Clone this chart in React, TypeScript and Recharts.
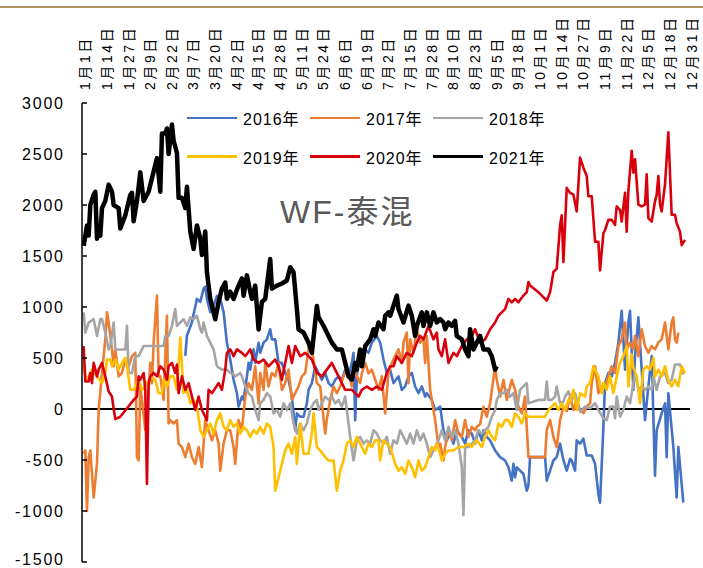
import React from 'react';
import { LineChart, Line, XAxis, YAxis, ReferenceLine } from 'recharts';

const tickLabels = [
  '1月1日', '1月14日', '1月27日', '2月9日', '2月22日', '3月7日', '3月20日', '4月2日', '4月15日', '4月28日',
  '5月11日', '5月24日', '6月6日', '6月19日', '7月2日', '7月15日', '7月28日', '8月10日', '8月23日', '9月5日',
  '9月18日', '10月1日', '10月14日', '10月27日', '11月9日', '11月22日', '12月5日', '12月18日', '12月31日',
];
const yTicks = [-1500, -1000, -500, 0, 500, 1000, 1500, 2000, 2500, 3000];

// [day of year, value]
const s2016: [number, number][] = [
  [61, 520], [62, 720], [65, 850], [68, 1080], [70, 1050], [72, 1180], [73, 1200], [74, 1080], [76, 950], [78, 1010],
  [80, 1110], [82, 1080], [84, 950], [86, 650], [88, 485], [90, 287], [92, 155], [93, 23], [95, 122], [96, 89],
  [98, 320], [99, 452], [100, 386], [102, 584], [103, 452], [105, 650], [106, 551], [108, 650], [110, 683], [112, 782],
  [113, 683], [115, 683], [117, 452], [119, 452], [121, 353], [123, 287], [125, 122], [127, -208], [128, -43], [130, -76],
  [132, -76], [134, 56], [135, 188], [137, 254], [139, 419], [141, 353], [143, 287], [145, 353], [147, 254], [149, 221],
  [151, 287], [153, 320], [155, 287], [157, 386], [159, 320], [161, 452], [162, 551], [163, -109], [164, 320], [165, 485],
  [167, 551], [169, 584], [171, 551], [173, 650], [176, 716], [178, 650], [180, 485], [182, 353], [184, 386], [186, 254],
  [189, 320], [191, 188], [193, 221], [195, 320], [197, 353], [199, 221], [201, 155], [203, 221], [205, 122], [206, 155],
  [209, 89], [211, -10], [214, 23], [216, -208], [218, -307], [220, -241], [222, -340], [224, -208], [227, -274], [229, -340],
  [231, -208], [233, -241], [235, -340], [237, -208], [239, -307], [240, -208], [242, -274], [244, -307], [247, -406], [250, -472],
  [253, -505], [255, -571], [257, -703], [258, -538], [259, -670], [260, -571], [262, -604], [264, -637], [266, -802], [267, -750],
  [268, -472], [277, -472], [278, -703], [280, -604], [282, -505], [284, -470], [286, -340], [288, -500], [290, -604], [292, -489],
  [293, -505], [295, -604], [296, -307], [298, -340], [300, -291], [302, -456], [305, -456], [307, -538], [309, -835], [310, -918],
  [312, -175], [313, 254], [315, 353], [317, 320], [319, 452], [321, 650], [323, 963], [325, 386], [327, 848], [328, 963],
  [330, 188], [331, 518], [333, 898], [335, 386], [337, -109], [339, 221], [341, 518], [343, -653], [344, -208], [347, -43],
  [349, 56], [350, -472], [351, 155], [354, -373], [356, -868], [357, -373], [360, -918],
];

const s2017: [number, number][] = [
  [0, -439], [1, -406], [2, -1000], [3, -472], [4, -406], [6, -868], [8, -538], [9, -10], [11, 353], [13, 683],
  [14, 947], [15, 848], [17, 584], [18, 419], [19, 584], [20, 452], [21, 320], [23, 353], [25, 485], [27, 419],
  [29, 518], [31, 551], [32, -472], [33, -505], [34, 221], [35, 89], [37, -208], [39, 188], [40, 452], [41, 254],
  [42, 650], [44, 1112], [45, 320], [46, 320], [48, 89], [50, 914], [51, -142], [52, -109], [54, -142], [56, -109],
  [57, -340], [59, -373], [61, -472], [63, -340], [65, -472], [67, -538], [69, -373], [71, -571], [73, -109], [75, -208],
  [77, -307], [79, -208], [81, -340], [82, -604], [84, -340], [86, -208], [88, -208], [90, -373], [91, -538], [93, -109],
  [95, -208], [97, 122], [99, 254], [101, 188], [103, 419], [105, 56], [106, 353], [108, 188], [109, 452], [111, 221],
  [113, 353], [115, 320], [117, 452], [119, 188], [121, 254], [123, 386], [125, 89], [127, 155], [129, 221], [131, 320],
  [133, 353], [135, 584], [136, 650], [138, 485], [140, 254], [142, 221], [143, 56], [145, -241], [146, -100], [148, 89],
  [150, 221], [152, 155], [154, 221], [156, 320], [158, 386], [160, 287], [161, 221], [162, 386], [164, 320], [166, 254],
  [167, 350], [169, 452], [171, 350], [173, 386], [175, 287], [177, 188], [179, 320], [181, -43], [183, 353], [185, 452],
  [187, 518], [189, 584], [191, 452], [192, 650], [194, 749], [195, 254], [196, 683], [198, 551], [200, 782], [202, 650],
  [204, 683], [205, 452], [206, 716], [208, 188], [210, -10], [211, -109], [213, -373], [214, -340], [216, -505], [217, -373],
  [219, -208], [221, -307], [223, -109], [225, -241], [227, -274], [229, -109], [231, -274], [233, -175], [235, -208], [236, -175],
  [238, -150], [240, 23], [242, -76], [244, 56], [247, 419], [248, 287], [250, 122], [252, 287], [254, 89], [257, 287],
  [259, 188], [261, 23], [263, -43], [265, 122], [267, -472], [277, -472], [278, -208], [280, -109], [282, -274], [284, -373],
  [286, -109], [288, 23], [290, -20], [292, 122], [294, -10], [296, 89], [298, -10], [300, -40], [302, 23], [304, 56],
  [305, 254], [307, 419], [309, 155], [311, 221], [313, 221], [315, 320], [317, 419], [319, 353], [321, 617], [323, 683],
  [325, 848], [326, 584], [328, 650], [330, 584], [331, 716], [333, 518], [335, 782], [337, 617], [339, 551], [341, 617],
  [343, 584], [345, 650], [347, 683], [349, 848], [351, 584], [353, 848], [354, 898], [355, 683], [356, 650], [357, 749],
];

const s2018: [number, number][] = [
  [0, 947], [1, 749], [3, 848], [6, 881], [8, 716], [10, 881], [11, 881], [13, 749], [15, 584], [16, 617],
  [18, 848], [19, 584], [22, 584], [25, 584], [26, 815], [27, 353], [29, 353], [31, 518], [33, 518], [36, 617],
  [41, 617], [48, 617], [49, 716], [51, 716], [53, 815], [55, 980], [56, 815], [58, 848], [60, 881], [62, 815],
  [64, 898], [66, 881], [68, 914], [70, 782], [71, 749], [72, 848], [74, 716], [76, 650], [78, 584], [80, 419],
  [83, 386], [86, 386], [88, 353], [89, 353], [91, 320], [94, 353], [95, 320], [97, 221], [99, 155], [101, 122],
  [103, -10], [105, -109], [106, 56], [108, 89], [110, 155], [112, 122], [114, -43], [116, -10], [118, -76], [120, 56],
  [122, -10], [124, 56], [126, -142], [128, -241], [130, -142], [132, -208], [134, -142], [136, -10], [138, 56], [140, 89],
  [141, -10], [143, 56], [145, 122], [147, 89], [149, 122], [151, 56], [153, 89], [155, 23], [157, 122], [159, -142],
  [160, -274], [162, -505], [164, -307], [166, -274], [168, -340], [170, -307], [172, -340], [174, -208], [176, -241], [178, -307],
  [180, -340], [182, -274], [184, -439], [186, -307], [188, -340], [190, -208], [192, -274], [194, -340], [196, -241], [198, -340],
  [200, -208], [202, -307], [204, -241], [206, -340], [208, -472], [210, -406], [212, -340], [213, -307], [215, -208], [217, -307],
  [219, -175], [221, -274], [223, -208], [225, -340], [227, -571], [228, -1040], [229, -373], [231, -373], [233, -340], [235, -307],
  [237, -208], [239, -241], [241, -208], [243, -175], [245, -76], [247, -10], [248, 89], [250, 155], [252, 155], [254, 188],
  [256, 122], [258, 155], [260, -10], [262, 188], [264, 221], [266, 254], [267, 56], [273, 89], [277, 89], [278, 270],
  [279, 89], [281, 89], [283, 122], [284, 221], [286, 56], [288, 72], [289, 122], [291, 172], [293, 89], [295, 155],
  [298, -26], [301, 23], [304, 7], [307, 56], [309, -10], [312, -92], [314, -109], [316, 23], [318, 23], [319, -92],
  [320, 122], [322, -76], [324, -10], [326, 122], [328, 56], [330, 254], [331, 353], [333, 188], [335, 221], [337, 188],
  [339, 221], [341, 188], [342, 320], [344, 188], [346, 320], [349, 353], [351, 254], [353, 287], [355, 436], [358, 436],
  [360, 337],
];

const s2019: [number, number][] = [
  [0, 452], [1, 320], [2, 287], [5, 386], [8, 320], [11, 254], [13, 353], [14, 485], [16, 485], [17, 419],
  [19, 485], [21, 386], [23, 452], [25, 502], [26, 419], [28, 188], [30, 188], [33, 287], [35, 188], [37, 221],
  [40, 320], [43, 287], [45, 155], [47, 155], [48, 287], [50, 221], [52, 320], [54, 320], [56, 188], [58, 700],
  [60, 155], [62, 188], [64, 56], [66, 89], [68, 23], [70, -208], [72, -274], [74, -208], [76, -142], [78, -241],
  [80, -109], [82, -43], [84, -175], [86, -208], [88, -109], [90, -175], [92, -142], [94, -241], [96, -175], [98, -208],
  [100, -274], [102, -208], [104, -241], [106, -175], [108, -241], [110, -142], [112, -175], [114, -373], [115, -802], [117, -670],
  [119, -538], [121, -406], [123, -340], [125, -439], [127, -274], [128, -538], [130, -142], [132, -439], [135, -439], [137, -241],
  [138, -43], [140, -373], [142, -406], [145, -472], [147, -505], [150, -505], [152, -802], [154, -604], [156, -505], [158, -340],
  [160, -307], [162, -373], [164, -274], [166, -340], [169, -439], [171, -340], [173, -373], [175, -307], [177, -307], [178, -505],
  [180, -307], [182, -340], [184, -373], [187, -538], [189, -604], [191, -571], [193, -637], [195, -505], [197, -571], [199, -670],
  [201, -505], [203, -604], [205, -571], [207, -472], [209, -373], [211, -406], [212, -340], [214, -439], [215, -505], [217, -439],
  [219, -406], [222, -406], [225, -373], [228, -373], [231, -340], [233, -373], [236, -307], [239, -373], [241, -274], [243, -208],
  [245, -274], [247, -307], [249, -142], [251, -175], [253, -109], [255, -109], [257, -175], [259, -43], [261, -76], [263, -142],
  [265, -43], [267, -76], [273, -76], [277, -76], [279, -10], [281, 23], [283, 56], [285, -10], [287, 56], [289, -10],
  [291, 89], [292, 72], [294, 188], [296, -10], [298, 155], [301, 122], [302, 221], [304, 254], [306, 419], [307, 386],
  [309, 320], [311, 155], [312, 254], [314, 188], [316, 320], [318, 155], [320, 320], [322, 452], [324, 518], [326, 617],
  [327, 221], [329, 535], [330, 403], [332, 320], [334, 56], [336, 386], [338, 419], [340, 386], [342, 502], [343, 320],
  [345, 386], [347, 320], [349, 419], [351, 287], [353, 221], [355, 287], [357, 221], [359, 419], [361, 353],
];

const s2020: [number, number][] = [
  [0, 617], [1, 270], [3, 270], [4, 353], [5, 254], [6, 452], [8, 320], [9, 386], [11, 452], [13, 320],
  [15, 172], [17, 122], [18, 0], [19, -99], [22, -76], [30, 89], [32, 122], [33, 320], [34, 287], [36, 353],
  [37, 188], [38, -736], [39, 254], [40, 320], [42, 353], [44, 320], [46, 419], [48, 386], [50, 287], [51, 419],
  [53, 452], [55, 353], [56, 436], [57, 155], [59, 320], [61, 188], [63, 254], [65, 122], [67, -10], [69, 122],
  [71, -10], [74, -109], [75, 188], [77, 155], [81, 254], [83, 188], [85, 386], [86, 551], [88, 584], [90, 518],
  [92, 584], [95, 551], [97, 518], [100, 584], [102, 485], [105, 452], [108, 485], [111, 419], [113, 452], [115, 485],
  [117, 419], [119, 287], [121, 452], [123, 617], [125, 452], [127, 617], [130, 518], [133, 551], [137, 485], [140, 353],
  [143, 320], [146, 386], [149, 452], [153, 320], [157, 188], [161, 188], [165, 122], [167, 188], [170, 221], [173, 188],
  [176, 221], [179, 188], [182, 353], [184, 419], [186, 419], [188, 518], [191, 452], [194, 551], [197, 518], [200, 650],
  [202, 716], [204, 683], [207, 815], [210, 683], [212, 749], [213, 584], [215, 518], [217, 683], [219, 452], [222, 551],
  [224, 518], [227, 617], [230, 683], [233, 716], [235, 782], [238, 650], [241, 683], [244, 782], [247, 848], [249, 914],
  [251, 947], [253, 980], [255, 1079], [257, 1046], [259, 1079], [261, 1046], [264, 1112], [266, 1145], [267, 1244], [268, 1211],
  [273, 1145], [278, 1062], [280, 1145], [282, 1343], [284, 1376], [286, 1800], [287, 1900], [288, 1442], [290, 2168], [292, 2119],
  [294, 2102], [296, 1937], [298, 2465], [300, 2366], [302, 2284], [303, 2086], [305, 2086], [307, 1640], [309, 1640], [310, 1359],
  [312, 1723], [313, 1755], [315, 1854], [317, 1854], [319, 1805], [320, 1987], [322, 1953], [323, 1838], [325, 2119], [326, 1739],
  [327, 2135], [329, 2531], [330, 2317], [331, 2449], [333, 2003], [335, 1987], [337, 2003], [338, 2300], [339, 1871], [341, 1838],
  [343, 2036], [344, 2102], [345, 2284], [346, 2003], [347, 1937], [349, 2201], [351, 2713], [353, 1904], [355, 1904], [356, 1822],
  [358, 1739], [359, 1607], [361, 1656],
];

const s2021: [number, number][] = [
  [0, 1600], [1, 1700], [2, 1800], [3, 1700], [4, 2000], [6, 2100], [7, 2130], [8, 1670], [9, 1740], [10, 1700],
  [11, 1970], [13, 2040], [15, 2200], [17, 2130], [18, 2000], [21, 1970], [22, 1770], [25, 1900], [28, 2100], [29, 2120],
  [30, 1840], [32, 2040], [34, 2320], [36, 2040], [39, 2130], [44, 2460], [46, 2130], [47, 2700], [49, 2700], [50, 2750],
  [51, 2500], [53, 2790], [54, 2630], [56, 2510], [57, 2070], [59, 2070], [61, 1970], [62, 2180], [64, 1740], [66, 1570],
  [68, 1800], [70, 1670], [71, 1510], [73, 1740], [74, 1340], [76, 1080], [79, 880], [81, 1050], [83, 1180], [85, 1240],
  [86, 1080], [88, 1150], [90, 1080], [93, 1210], [95, 1280], [96, 1110], [98, 1310], [100, 1150], [101, 1080], [103, 1210],
  [105, 780], [107, 1050], [109, 1080], [110, 1210], [112, 1470], [113, 1180], [116, 1210], [119, 1230], [122, 1260], [124, 1390],
  [126, 1340], [128, 980], [129, 780], [132, 750], [135, 650], [137, 550], [140, 1010], [141, 900], [144, 815], [147, 716],
  [149, 650], [152, 584], [155, 584], [157, 452], [159, 320], [161, 287], [163, 452], [164, 386], [166, 584], [167, 419],
  [169, 617], [172, 683], [174, 782], [175, 716], [177, 848], [180, 782], [181, 914], [183, 947], [184, 914], [186, 1013],
  [188, 1112], [189, 980], [192, 848], [195, 1013], [197, 914], [199, 716], [200, 815], [203, 947], [204, 815], [206, 947],
  [208, 815], [210, 947], [212, 848], [214, 881], [216, 848], [217, 782], [219, 848], [221, 815], [223, 864], [224, 716],
  [227, 683], [229, 584], [231, 518], [232, 782], [234, 584], [236, 650], [238, 716], [240, 584], [243, 584], [245, 518],
  [246, 452], [247, 386], [248, 419],
];

const series = [
  { name: '2016年', color: '#4472C4', width: 2.6, data: s2016 },
  { name: '2017年', color: '#ED7D31', width: 2.6, data: s2017 },
  { name: '2018年', color: '#A5A5A5', width: 2.6, data: s2018 },
  { name: '2019年', color: '#FFC000', width: 2.6, data: s2019 },
  { name: '2020年', color: '#D9000D', width: 2.6, data: s2020 },
  { name: '2021年', color: '#000000', width: 4.5, data: s2021 },
];

const FONT = '"Liberation Sans", Arial, "Noto Sans CJK SC", sans-serif';
const tickDays = tickLabels.map((_, i) => i * 13);

// rough advance width of a label, used to spread the glyphs like the original
const textWidth = (s: string, fs: number) =>
  [...s].reduce((w, c) => w + (/[0-9]/.test(c) ? 0.556 * fs : c === '-' ? 0.333 * fs : fs), 0);

const DateTick = (props: any) => {
  const { x, y, payload } = props;
  const label = tickLabels[Math.round(payload.value / 13)];
  return (
    <text
      transform={`translate(${x + 1.5},${y}) rotate(-90)`}
      dy="0.36em"
      textAnchor="start"
      fontSize={14}
      fontFamily={FONT}
      fill="#000"
      textLength={textWidth(label, 14) + 2.6 * (label.length - 1)}
      lengthAdjust="spacing"
    >
      {label}
    </text>
  );
};

const ValueTick = (props: any) => {
  const { x, y, payload } = props;
  const label = String(payload.value);
  // keep the lowest label inside the picture
  const ty = Math.min(y, 559);
  return (
    <text
      x={x}
      y={ty}
      dy="0.36em"
      textAnchor="end"
      fontSize={16}
      fontFamily={FONT}
      fill="#000"
      textLength={textWidth(label, 16) + 1.8 * (label.length - 1)}
      lengthAdjust="spacing"
    >
      {label}
    </text>
  );
};

const ChartLegend = () => (
  <>
    {series.map((s, i) => {
      const col = i % 3;
      const row = Math.floor(i / 3);
      return (
        <div
          key={s.name}
          style={{
            position: 'absolute',
            left: 187 + col * 123,
            top: 108 + row * 38.5,
            height: 20,
            display: 'flex',
            alignItems: 'center',
            fontFamily: FONT,
            fontSize: 16,
            letterSpacing: 1,
            color: '#000',
          }}
        >
          <span style={{ display: 'inline-block', width: 50, height: s.width === 4.5 ? 3.5 : 2.5, background: s.color }} />
          <span style={{ marginLeft: 6 }}>{s.name}</span>
        </div>
      );
    })}
  </>
);

export default function App() {
  return (
    <div style={{ position: 'absolute', left: 0, top: 0, width: 703, height: 568, background: '#fff', overflow: 'hidden' }}>
      <div style={{ position: 'absolute', left: 0, top: 6, width: 703, height: 2, background: '#B39460' }} />
      <LineChart width={703} height={568} margin={{ top: 23, right: 13, left: 0, bottom: 6 }}>
        <XAxis
          xAxisId={0}
          type="number"
          dataKey="d"
          orientation="top"
          domain={[-1, 364]}
          allowDataOverflow
          ticks={tickDays}
          interval={0}
          height={80}
          axisLine={false}
          tickLine={false}
          tickSize={0}
          tickMargin={13}
          tick={<DateTick />}
        />
        <YAxis
          type="number"
          domain={[-1500, 3000]}
          ticks={yTicks}
          interval={0}
          width={82}
          axisLine={{ stroke: '#000', strokeWidth: 1.5 }}
          tickLine={{ stroke: '#000', strokeWidth: 1.5 }}
          tickSize={-5}
          tickMargin={24}
          tick={<ValueTick />}
        />
        <ReferenceLine y={0} stroke="#000" strokeWidth={2} />
        {series.map((s) => (
          <Line
            key={s.name}
            data={s.data.map(([d, v]) => ({ d, v }))}
            dataKey="v"
            name={s.name}
            type="linear"
            stroke={s.color}
            strokeWidth={s.width}
            strokeLinejoin="round"
            dot={false}
            activeDot={false}
            isAnimationActive={false}
          />
        ))}
      </LineChart>
      <ChartLegend />
      <div
        style={{
          position: 'absolute',
          left: 280,
          top: 196,
          fontFamily: FONT,
          fontSize: 32,
          letterSpacing: 2,
          color: '#595959',
          lineHeight: 1,
        }}
      >
        WF-泰混
      </div>
    </div>
  );
}
